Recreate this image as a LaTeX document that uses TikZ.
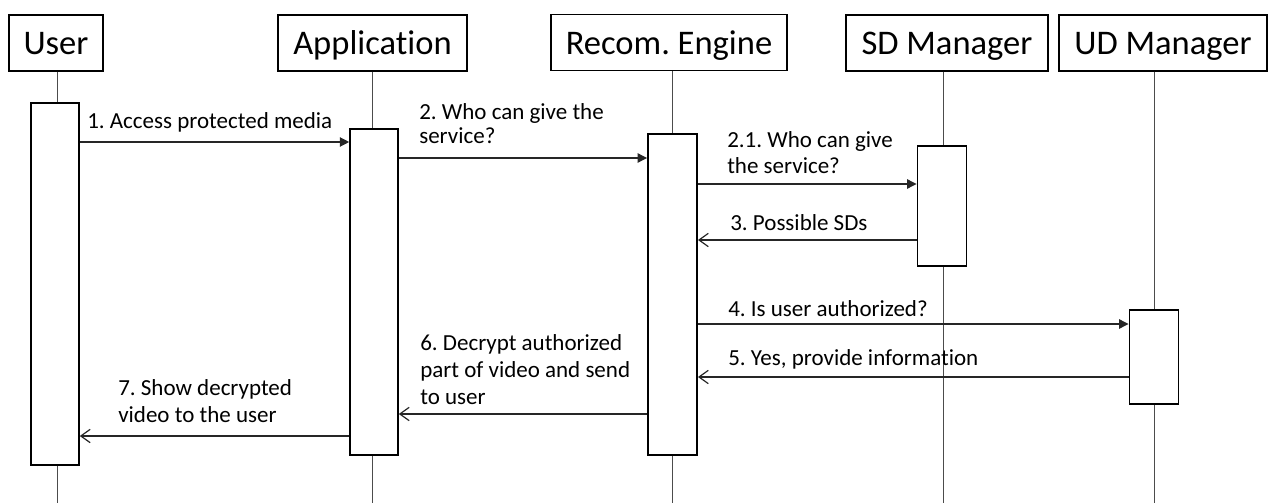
\documentclass[tikz,border=0pt]{standalone}
\usepackage{fontspec}
\setmainfont{Carlito}[Ligatures={NoCommon,NoContextual}]
\frenchspacing
\usetikzlibrary{arrows.meta}
\begin{document}
\begin{tikzpicture}[x=0.75pt,y=-0.75pt,
  header/.style={draw=black, line width=1.1pt, fill=white, inner sep=0pt,
    font=\fontsize{25.9pt}{31pt}\selectfont, text height=21pt, text depth=3pt,
    minimum height=42pt},
  life/.style={draw=black!70, line width=0.75pt},
  act/.style={draw=black, line width=1.2pt, fill=white, inner sep=0pt},
  msg/.style={draw=black!85, line width=0.9pt},
  call/.style={msg, -{Triangle[length=7pt,width=7pt]}},
  reply/.style={msg, -{Straight Barb[length=7pt,width=10pt]}},
  lbl/.style={anchor=base west, inner sep=0pt, font=\fontsize{17.25pt}{20.25pt}\selectfont},
]
\useasboundingbox (0,0) rectangle (1272,503);

% participants
\node[header, minimum width=70.5pt]  (user) at (56,43)    {User};
\node[header, minimum width=141.75pt] (app) at (372.5,43) {Application};
\node[header, minimum width=177pt]   (rec) at (669,42.5)  {Recom. Engine};
\node[header, minimum width=151.5pt] (sd)  at (947,43)    {SD Manager};
\node[header, minimum width=156pt]   (ud)  at (1163,43)   {UD Manager};

% lifeline ends
\coordinate (ue) at (57,503);
\coordinate (ae) at (372,503);
\coordinate (re) at (672,503);
\coordinate (se) at (943,503);
\coordinate (de) at (1154,503);

\draw[life] (user.south -| ue) -- (ue);
\draw[life] (app.south -| ae) -- (ae);
\draw[life] (rec.south -| re) -- (re);
\draw[life] (sd.south -| se) -- (se);
\draw[life] (ud.south -| de) -- (de);

% activation bars
\node[act, minimum width=36pt, minimum height=271.5pt] (ua) at (55,284)    {};
\node[act, minimum width=36pt, minimum height=244.5pt] (aa) at (374,292)   {};
\node[act, minimum width=37pt, minimum height=240.75pt] (ra) at (672.5,294.5) {};
\node[act, minimum width=37pt, minimum height=90pt]    (sa) at (942,206)   {};
\node[act, minimum width=37pt, minimum height=70.5pt]  (da) at (1154,357)  {};

% messages
\draw[call]  (ua.east |- 0,142) -- (aa.west |- 0,142);
\draw[call]  (aa.east |- 0,158) -- (ra.west |- 0,158);
\draw[call]  (ra.east |- 0,184) -- (sa.west |- 0,184);
\draw[reply] (sa.west |- 0,240) -- (ra.east |- 0,240);
\draw[call]  (ra.east |- 0,324) -- (da.west |- 0,324);
\draw[reply] (da.west |- 0,377) -- (ra.east |- 0,377);
\draw[reply] (ra.west |- 0,414) -- (aa.east |- 0,414);
\draw[reply] (aa.west |- 0,436) -- (ua.east |- 0,436);

% message labels
\node[lbl] (t1)  at (87,128)  {1. Access protected media};
\node[lbl] (t2)  at (419,119) {\vtop{\baselineskip=18pt\hbox{2. Who can give the}\hbox{service?}}};
\node[lbl] (t21) at (727,147) {\vtop{\baselineskip=19.5pt\hbox{2.1. Who can give}\hbox{the service?}}};
\node[lbl] (t3)  at (730,230) {3. Possible SDs};
\node[lbl] (t4)  at (728,316) {4. Is user authorized?};
\node[lbl] (t5)  at (728,365) {5. Yes, provide information};
\node[lbl] (t6)  at (420,350) {\vtop{\baselineskip=20.25pt\hbox{6. Decrypt authorized}\hbox{part of video and send}\hbox{to user}}};
\node[lbl] (t7)  at (118,395) {\vtop{\baselineskip=20.25pt\hbox{7. Show decrypted}\hbox{video to the user}}};
\end{tikzpicture}
\end{document}
